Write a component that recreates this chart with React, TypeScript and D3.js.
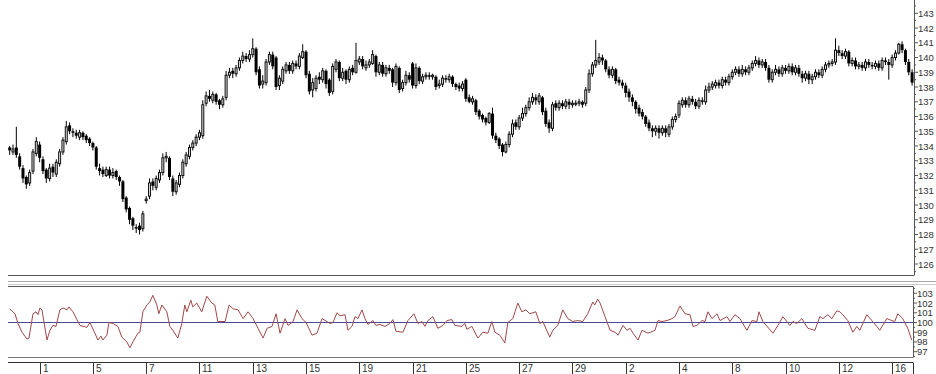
import React from "react";
import * as d3 from "d3";

const closes = [
  133.7, 133.8, 133.4, 132.6, 131.8, 131.4, 132.2, 133.6, 134.3, 133.2,
  132.3, 131.8, 132.5, 132.2, 132.9, 133.6, 134.4, 135.3, 135.0, 134.9,
  134.7, 134.9, 134.6, 134.4, 134.2, 133.9, 132.6, 132.3, 132.1, 132.4,
  132.0, 132.2, 131.9, 131.6, 130.4, 129.7, 129.0, 128.6, 128.4, 128.3,
  129.4, 130.4, 131.5, 131.3, 131.8, 132.2, 133.2, 133.3, 131.9, 130.9,
  131.5, 132.0, 132.9, 133.4, 133.9, 134.2, 134.6, 134.9, 136.8, 137.4,
  137.2, 137.5, 137.0, 136.8, 137.2, 138.8, 139.0, 138.9, 139.3, 139.8,
  140.1, 139.9, 140.2, 140.6, 139.0, 138.1, 138.4, 139.7, 140.2, 139.4,
  138.0, 138.6, 139.2, 139.5, 139.1, 139.6, 139.4, 140.1, 140.4, 138.8,
  137.7, 138.3, 138.6, 138.5, 139.1, 138.2, 137.6, 139.4, 139.7, 138.6,
  139.0, 138.5, 139.2, 139.0, 139.8, 139.9, 139.4, 139.5, 139.7, 140.2,
  139.0, 139.5, 138.9, 139.3, 139.1, 138.3, 139.4, 137.8, 138.3, 138.8,
  138.5, 138.1, 139.3, 138.4, 138.7, 138.8, 138.7, 138.8, 138.0, 138.2,
  138.6, 138.5, 138.7, 138.2, 138.0, 137.9, 138.2, 137.2, 137.0, 137.2,
  136.3, 136.0, 135.8, 135.6, 136.2, 134.7, 134.4, 134.0, 133.6, 134.1,
  134.8, 135.5, 135.3, 135.9, 136.2, 136.6, 137.0, 137.3, 137.1, 137.4,
  136.3, 135.5, 135.2, 136.8, 136.6, 136.9, 136.7, 137.0, 136.8, 136.9,
  136.9, 137.0, 136.8, 137.8, 138.9, 139.5, 139.8, 140.0, 139.8, 139.2,
  138.8, 139.2, 138.4, 138.3, 138.1, 137.6, 137.3, 137.0, 136.5, 136.2,
  136.0, 135.5, 135.2, 135.0, 135.2, 134.9, 135.2, 134.9, 135.3, 135.8,
  136.0, 136.9, 137.1, 136.8, 137.2, 137.0, 136.7, 137.1, 137.0, 137.8,
  138.0, 138.2, 138.3, 138.1, 138.5, 138.3, 138.7, 139.0, 139.2, 138.9,
  139.2, 139.0, 139.3, 139.6, 139.8, 139.5, 139.7, 139.3, 138.5, 139.0,
  139.2, 138.9, 139.3, 139.1, 139.4, 139.0, 139.3, 138.9, 138.6, 138.9,
  138.5, 138.7, 139.0, 138.8, 139.2, 139.5, 139.6, 139.7, 140.5, 140.3,
  140.1, 140.4, 139.6, 139.8, 139.4, 139.5, 139.3, 139.7, 139.5, 139.4,
  139.6, 139.3, 139.8, 139.7, 139.5, 140.0, 140.3, 140.9, 140.5, 139.7,
  139.0, 138.3,
];

const opens = [
  133.9, 133.6, 133.9, 133.3, 132.5, 131.9, 131.5, 132.3, 133.5, 134.1,
  133.1, 132.4, 131.8, 132.6, 132.1, 132.8, 133.6, 134.3, 135.4, 135.0,
  134.9, 134.6, 134.9, 134.7, 134.5, 134.2, 133.9, 132.5, 132.4, 132.0,
  132.4, 132.0, 132.3, 131.9, 131.6, 130.5, 129.8, 129.1, 128.5, 128.6,
  128.4, 130.3, 130.6, 131.6, 131.2, 131.7, 132.2, 133.2, 133.2, 131.8,
  130.9, 131.4, 132.0, 132.8, 133.3, 133.9, 134.2, 134.6, 134.7, 136.9,
  137.4, 137.1, 137.5, 137.1, 136.8, 137.3, 138.8, 139.1, 138.9, 139.3,
  139.8, 140.1, 139.9, 140.2, 140.6, 139.2, 138.2, 138.3, 139.7, 140.2,
  140.0, 138.1, 138.4, 139.1, 139.5, 139.1, 139.6, 139.4, 140.0, 140.4,
  138.9, 137.8, 137.9, 138.7, 138.5, 139.1, 138.5, 137.7, 139.2, 139.7,
  138.6, 139.1, 138.5, 139.3, 139.0, 139.7, 139.9, 139.3, 139.5, 139.6,
  140.1, 139.0, 139.5, 138.9, 139.3, 139.2, 138.3, 139.3, 137.9, 138.3,
  138.8, 139.6, 138.1, 139.3, 138.4, 138.7, 138.8, 138.7, 138.7, 138.1,
  138.2, 138.6, 138.5, 138.7, 138.2, 138.1, 137.9, 138.5, 137.3, 137.0,
  137.1, 136.4, 136.1, 135.9, 135.6, 136.2, 134.7, 134.5, 134.1, 133.6,
  134.1, 134.8, 135.6, 135.3, 135.9, 136.2, 136.6, 137.0, 137.3, 137.0,
  137.3, 136.4, 135.6, 135.2, 136.9, 136.6, 136.9, 136.7, 137.0, 136.8,
  136.9, 136.9, 137.0, 136.9, 137.8, 138.9, 139.5, 139.7, 140.0, 139.8,
  139.2, 138.8, 139.2, 138.5, 138.3, 138.1, 137.7, 137.3, 137.0, 136.6,
  136.3, 136.0, 135.6, 135.2, 135.0, 135.2, 134.9, 135.2, 134.8, 135.3,
  135.8, 136.1, 136.8, 137.1, 136.8, 137.2, 137.0, 136.7, 137.1, 137.0,
  137.8, 138.0, 138.1, 138.3, 138.1, 138.5, 138.3, 138.7, 139.0, 139.2,
  138.9, 139.2, 139.0, 139.3, 139.6, 139.8, 139.5, 139.7, 139.3, 138.5,
  139.0, 139.2, 138.9, 139.3, 139.1, 139.4, 139.0, 139.3, 138.9, 138.6,
  138.9, 138.5, 138.7, 139.0, 138.8, 139.2, 139.5, 139.6, 139.7, 140.5,
  140.3, 140.1, 140.4, 139.6, 139.8, 139.4, 139.5, 139.3, 139.7, 139.5,
  139.4, 139.6, 139.3, 139.8, 139.7, 139.5, 140.0, 140.3, 140.9, 140.5,
  139.7, 139.0,
];

const highs = [
  134.0, 134.1, 135.3, 133.5, 132.7, 132.0, 132.4, 133.8, 134.6, 134.3,
  133.3, 132.5, 132.8, 132.8, 133.1, 133.8, 134.6, 135.7, 135.6, 135.2,
  135.1, 135.1, 135.0, 134.8, 134.6, 134.3, 134.0, 132.8, 132.6, 132.6,
  132.6, 132.5, 132.4, 132.0, 131.7, 130.6, 129.9, 129.2, 128.7, 128.8,
  129.6, 130.6, 131.8, 131.8, 132.0, 132.4, 133.5, 133.6, 133.3, 132.0,
  131.7, 132.2, 133.1, 133.6, 134.1, 134.4, 134.8, 135.1, 137.1, 137.7,
  137.8, 137.7, 137.6, 137.2, 137.4, 139.1, 139.3, 139.3, 139.5, 140.0,
  140.4, 140.3, 140.5, 141.3, 140.7, 139.4, 138.8, 139.9, 140.4, 140.4,
  140.1, 138.8, 139.4, 139.7, 139.7, 139.8, 139.8, 140.3, 140.9, 140.5,
  139.1, 138.6, 138.8, 139.0, 139.3, 139.2, 138.6, 139.6, 139.9, 139.8,
  139.3, 139.2, 139.4, 139.5, 141.0, 140.1, 140.1, 139.8, 139.9, 140.5,
  140.2, 139.7, 139.7, 139.5, 139.5, 139.3, 139.6, 139.4, 138.5, 139.1,
  139.0, 139.7, 139.6, 139.4, 138.9, 139.0, 139.0, 138.9, 138.8, 138.5,
  138.8, 138.8, 138.9, 138.8, 138.3, 138.3, 138.4, 138.6, 137.5, 137.4,
  137.2, 136.5, 136.2, 136.0, 136.3, 136.6, 134.9, 134.6, 134.2, 134.3,
  135.0, 135.8, 135.8, 136.1, 136.6, 136.8, 137.3, 137.6, 137.5, 137.6,
  137.4, 136.6, 135.8, 137.0, 137.1, 137.1, 137.1, 137.2, 137.2, 137.1,
  137.1, 137.2, 137.1, 138.0, 139.2, 139.7, 141.2, 140.3, 140.2, 139.9,
  139.4, 139.4, 139.3, 138.7, 138.5, 138.3, 137.9, 137.5, 137.1, 136.8,
  136.5, 136.1, 135.8, 135.4, 135.4, 135.4, 135.4, 135.4, 135.5, 136.0,
  136.2, 137.1, 137.3, 137.3, 137.4, 137.4, 137.2, 137.3, 137.3, 138.1,
  138.3, 138.4, 138.5, 138.5, 138.7, 138.7, 138.9, 139.2, 139.4, 139.4,
  139.5, 139.4, 139.5, 139.8, 140.1, 140.0, 139.9, 139.9, 139.5, 139.2,
  139.5, 139.4, 139.5, 139.5, 139.6, 139.6, 139.5, 139.5, 139.1, 139.1,
  139.1, 138.9, 139.2, 139.2, 139.4, 139.7, 139.8, 139.9, 141.3, 140.8,
  140.5, 140.6, 140.5, 140.0, 140.0, 139.7, 139.7, 139.9, 139.9, 139.7,
  139.8, 139.8, 140.0, 140.0, 139.9, 140.2, 140.5, 141.0, 141.1, 140.6,
  139.9, 139.2,
];

const lows = [
  133.4, 133.4, 133.2, 132.4, 131.5, 131.1, 131.3, 132.1, 133.3, 132.9,
  132.1, 131.5, 131.6, 131.9, 131.9, 132.6, 133.4, 134.1, 134.8, 134.6,
  134.5, 134.4, 134.4, 134.2, 134.0, 133.7, 132.4, 132.0, 131.9, 131.9,
  131.8, 131.8, 131.7, 131.3, 130.2, 129.5, 128.7, 128.3, 128.1, 128.0,
  128.2, 130.1, 130.4, 131.0, 131.0, 131.5, 132.0, 132.9, 131.7, 130.6,
  130.7, 131.2, 131.8, 132.6, 133.1, 133.7, 134.0, 134.4, 134.5, 136.7,
  137.0, 136.9, 136.8, 136.5, 136.6, 137.1, 138.6, 138.6, 138.7, 139.1,
  139.6, 139.7, 139.7, 140.0, 138.8, 137.9, 137.9, 138.1, 139.5, 139.2,
  137.8, 137.8, 138.2, 138.9, 138.9, 138.9, 139.2, 139.2, 139.9, 138.6,
  137.5, 137.3, 137.7, 138.2, 138.3, 137.9, 137.4, 137.5, 139.0, 138.4,
  138.4, 138.2, 138.3, 138.8, 138.9, 139.5, 139.2, 139.1, 139.3, 139.5,
  138.7, 138.8, 138.7, 138.7, 138.9, 138.0, 138.1, 137.6, 137.7, 138.1,
  138.3, 137.9, 137.9, 138.2, 138.2, 138.5, 138.5, 138.5, 137.8, 137.9,
  138.0, 138.3, 138.3, 138.0, 137.8, 137.7, 137.7, 137.0, 136.9, 136.8,
  136.1, 135.8, 135.6, 135.4, 135.5, 134.5, 134.2, 133.8, 133.3, 133.5,
  133.9, 134.6, 135.1, 135.1, 135.7, 136.0, 136.4, 136.8, 136.8, 136.8,
  136.1, 135.3, 134.9, 135.0, 136.4, 136.4, 136.5, 136.5, 136.5, 136.6,
  136.7, 136.7, 136.6, 136.7, 137.6, 138.7, 139.3, 139.5, 139.5, 139.0,
  138.6, 138.6, 138.2, 138.1, 137.9, 137.3, 137.0, 136.7, 136.2, 136.0,
  135.8, 135.3, 135.0, 134.6, 134.7, 134.5, 134.7, 134.6, 134.6, 135.1,
  135.6, 135.9, 136.6, 136.6, 136.6, 136.8, 136.5, 136.5, 136.8, 136.8,
  137.6, 137.8, 137.9, 137.9, 137.9, 138.1, 138.1, 138.5, 138.8, 138.7,
  138.7, 138.8, 138.8, 139.1, 139.4, 139.3, 139.3, 139.1, 138.3, 138.3,
  138.8, 138.7, 138.7, 138.9, 138.9, 138.8, 138.8, 138.7, 138.3, 138.4,
  138.2, 138.2, 138.5, 138.6, 138.6, 139.0, 139.3, 139.4, 139.5, 140.1,
  139.9, 139.9, 139.4, 139.4, 139.2, 139.2, 139.1, 139.1, 139.3, 139.2,
  139.2, 139.1, 139.1, 139.5, 138.5, 139.3, 139.8, 140.2, 140.3, 139.5,
  138.8, 138.1,
];

// oscillator samples: bar position and value
const oscPos = [
  0, 1.6, 2.5, 3.7, 5.2, 5.8, 7.0, 7.9, 8.5, 9.1, 9.7, 11.2, 12.1, 13.0, 13.9,
  15.1, 16.0, 17.2, 17.8, 19.0, 21.1, 23.2, 24.1, 25.6, 26.5, 27.4, 28.0, 29.2,
  29.8, 31.0, 32.5, 33.7, 35.2, 36.1, 37.0, 38.5, 39.1, 40.0, 41.2, 42.1, 43.0,
  44.2, 44.8, 45.7, 47.2, 48.1, 49.0, 50.5, 51.7, 52.6, 53.2, 54.4, 55.0, 56.2,
  57.7, 59.2, 60.7, 61.6, 62.5, 64.7, 65.9, 67.1, 68.6, 70.1, 71.6, 73.1, 74.6,
  76.1, 77.3, 78.8, 80.0, 81.2, 82.7, 83.6, 85.1, 86.3, 87.8, 89.0, 90.8, 92.3,
  93.8, 96.2, 97.1, 98.3, 99.2, 100.7, 101.6, 102.8, 103.7, 104.6, 105.8, 106.7,
  107.6, 109.1, 110.0, 111.2, 112.7, 114.2, 115.1, 116.0, 118.1, 119.6, 121.4,
  122.6, 123.8, 124.7, 125.6, 127.1, 128.6, 130.1, 131.3, 132.8, 133.7, 135.8,
  136.7, 137.3, 138.8, 140.6, 142.1, 143.6, 144.8, 145.7, 147.2, 148.7, 149.6,
  151.1, 152.6, 153.8, 155.0, 156.2, 158.0, 159.2, 160.1, 162.2, 163.1, 164.6,
  166.1, 167.6, 169.1, 170.6, 172.1, 173.6, 175.1, 175.7, 176.6, 177.3, 178.8,
  180.3, 181.8, 182.7, 184.2, 185.4, 186.3, 187.2, 188.7, 189.9, 191.7, 193.8,
  194.7, 195.9, 197.4, 198.9, 199.8, 201.3, 202.8, 204.3, 205.2, 206.4, 207.9,
  208.8, 209.7, 210.9, 212.4, 213.3, 215.4, 216.3, 217.8, 219.3, 221.4, 222.9,
  224.4, 225.0, 226.2, 229.2, 230.7, 232.2, 234.3, 235.2, 236.4, 237.9, 239.7,
  241.8, 243.3, 244.2, 245.7, 246.9, 248.4, 249.3, 250.2, 251.7, 253.2, 254.4,
  255.3, 257.4, 258.9, 260.4, 261.3, 263.4, 264.9, 265.8, 266.7, 268.2, 269.7,
  270.9,
];

const oscVal = [
  101.4, 100.9, 99.9, 99.0, 98.3, 98.4, 100.9, 101.1, 100.8, 101.5, 101.3, 98.2,
  99.2, 99.7, 99.6, 101.3, 101.5, 101.3, 101.6, 101.1, 99.7, 99.5, 100.0, 98.9,
  98.2, 98.6, 98.2, 98.7, 100.0, 99.9, 99.6, 98.5, 98.0, 97.4, 98.0, 98.9, 99.0,
  101.1, 101.8, 102.1, 102.8, 101.8, 100.9, 101.8, 101.1, 99.6, 99.2, 98.4, 99.9,
  101.8, 101.1, 102.3, 101.6, 102.0, 101.1, 102.7, 102.0, 101.8, 100.1, 100.1,
  101.8, 101.4, 101.3, 100.4, 101.1, 100.4, 99.4, 98.4, 99.4, 99.6, 100.9, 98.9,
  100.4, 99.7, 100.1, 101.3, 100.4, 100.0, 98.7, 98.9, 100.4, 99.9, 100.0, 101.0,
  100.7, 100.8, 99.2, 99.6, 100.6, 100.4, 101.3, 100.4, 99.8, 100.2, 99.7, 99.8,
  99.6, 99.9, 100.3, 99.1, 99.0, 100.2, 100.9, 99.9, 100.1, 99.6, 100.2, 100.6,
  99.4, 99.7, 100.2, 100.3, 99.7, 99.6, 99.9, 99.3, 99.6, 98.4, 99.0, 98.9, 100.1,
  99.0, 98.7, 97.9, 100.0, 100.4, 102.0, 101.1, 101.3, 100.9, 101.1, 99.9, 100.1,
  98.5, 99.2, 99.7, 101.3, 100.4, 100.1, 100.2, 100.1, 100.9, 102.1, 101.8, 102.4,
  102.0, 100.6, 99.2, 99.0, 98.7, 99.7, 99.2, 99.4, 98.9, 98.2, 99.2, 98.9, 99.2,
  100.2, 100.1, 100.2, 100.4, 100.6, 101.7, 100.9, 100.8, 99.6, 99.7, 100.2, 100.1,
  101.1, 100.4, 100.9, 100.2, 100.6, 100.1, 100.8, 100.4, 99.2, 100.2, 100.1, 101.1,
  100.1, 98.9, 99.7, 100.6, 99.7, 100.1, 99.9, 100.4, 99.4, 99.2, 100.6, 100.4,
  100.8, 100.4, 101.2, 101.1, 100.8, 100.2, 99.0, 99.6, 99.2, 100.8, 100.2, 99.6,
  99.2, 100.4, 100.2, 100.1, 100.9, 100.4, 99.4, 98.2,
];

const xLabels = ["1", "5", "7", "11", "13", "15", "19", "21", "25", "27", "29", "2", "4", "8", "10", "12", "16"];
const xLabelStart = 9;
const xLabelEvery = 16;

const priceTicks = d3.range(126, 144);
const priceMinor = d3.range(125.5, 143.6, 1);
const oscTicks = d3.range(97, 104);
const oscMinor = d3.range(96.5, 103.6, 1);
const oscBase = 100;

const W = 936;
const H = 374;
const left = 8;
const step = 3.33;
const axisX = 914;

export default function App() {
  const n = closes.length;
  const x = d3.scaleLinear().domain([0, n]).range([left, left + n * step]);
  const cx = (i: number) => x(i + 0.5);
  const yP = d3.scaleLinear().domain([126, 143]).range([264, 13.3]);
  const yO = d3.scaleLinear().domain([97, 103]).range([351.7, 293.3]);

  const oscLine = d3
    .line<number>()
    .x((_, k) => cx(oscPos[k]))
    .y((v) => yO(v));

  const font = "'Liberation Sans', Arial, sans-serif";

  return (
    <svg
      width={W}
      height={H}
      style={{ position: "absolute", left: 0, top: 0, background: "#fff" }}
      fontFamily={font}
    >
      <rect x={0} y={0} width={W} height={H} fill="#fff" />
      {/* candles */}
      <g>
        {closes.map((c, i) => {
          const o = opens[i];
          const up = c >= o;
          const top = yP(Math.max(o, c));
          const bot = yP(Math.min(o, c));
          const h = Math.max(1, bot - top);
          const xc = cx(i);
          return (
            <g key={i}>
              <line x1={xc} x2={xc} y1={yP(highs[i])} y2={yP(lows[i])} stroke="#000" strokeWidth={1} />
              {up ? (
                <rect x={xc - 1} y={top} width={2} height={h} fill="#ddd" stroke="#111" strokeWidth={1} />
              ) : (
                <rect x={xc - 1.5} y={top} width={3} height={h} fill="#000" />
              )}
            </g>
          );
        })}
      </g>

      {/* main panel frame */}
      <line x1={left} x2={axisX} y1={275.5} y2={275.5} stroke="#555" strokeWidth={1} />
      <line x1={axisX + 0.5} x2={axisX + 0.5} y1={0} y2={275.5} stroke="#555" strokeWidth={1} />
      {priceTicks.map((t) => (
        <g key={t}>
          <line x1={axisX} x2={axisX + 4} y1={yP(t)} y2={yP(t)} stroke="#555" />
          <text x={axisX + 4} y={yP(t) + 3.5} fontSize={9.5} fill="#333">
            {t}
          </text>
        </g>
      ))}
      {priceMinor.map((t) => (
        <line key={t} x1={axisX} x2={axisX + 2} y1={yP(t)} y2={yP(t)} stroke="#555" />
      ))}

      {/* splitter */}
      <line x1={left} x2={W} y1={281.5} y2={281.5} stroke="#aaa" strokeWidth={1} />
      <line x1={left} x2={W} y1={284.5} y2={284.5} stroke="#ccc" strokeWidth={1} />

      {/* lower panel */}
      <line x1={left} x2={axisX - 1} y1={286.5} y2={286.5} stroke="#555" />
      <line x1={axisX - 0.5} x2={axisX - 0.5} y1={286.5} y2={357.5} stroke="#555" />
      <line x1={left} x2={axisX - 1} y1={357.5} y2={357.5} stroke="#777" strokeWidth={1.2} />
      <line x1={left} x2={axisX - 1} y1={yO(oscBase)} y2={yO(oscBase)} stroke="#4a4a9c" strokeWidth={1} />
      <path d={oscLine(oscVal) || ""} fill="none" stroke="#a04848" strokeWidth={1} />
      {oscTicks.map((t) => (
        <g key={t}>
          <line x1={axisX - 1} x2={axisX + 3} y1={yO(t)} y2={yO(t)} stroke="#555" />
          <text x={axisX + 3} y={yO(t) + 3.5} fontSize={9.5} fill="#333">
            {t}
          </text>
        </g>
      ))}
      {oscMinor.map((t) => (
        <line key={t} x1={axisX - 1} x2={axisX + 1} y1={yO(t)} y2={yO(t)} stroke="#555" />
      ))}

      {/* x axis */}
      <line x1={left} x2={axisX - 1} y1={362.5} y2={362.5} stroke="#333" />
      <line x1={axisX - 0.5} x2={axisX - 0.5} y1={362.5} y2={H} stroke="#333" />
      {xLabels.map((lab, k) => {
        const xi = Math.round(cx(xLabelStart + k * xLabelEvery)) + 0.5;
        return (
          <g key={k}>
            <line x1={xi} x2={xi} y1={362.5} y2={H} stroke="#333" />
            <text x={xi + 2.5} y={372} fontSize={10} fill="#333">
              {lab}
            </text>
          </g>
        );
      })}
    </svg>
  );
}
